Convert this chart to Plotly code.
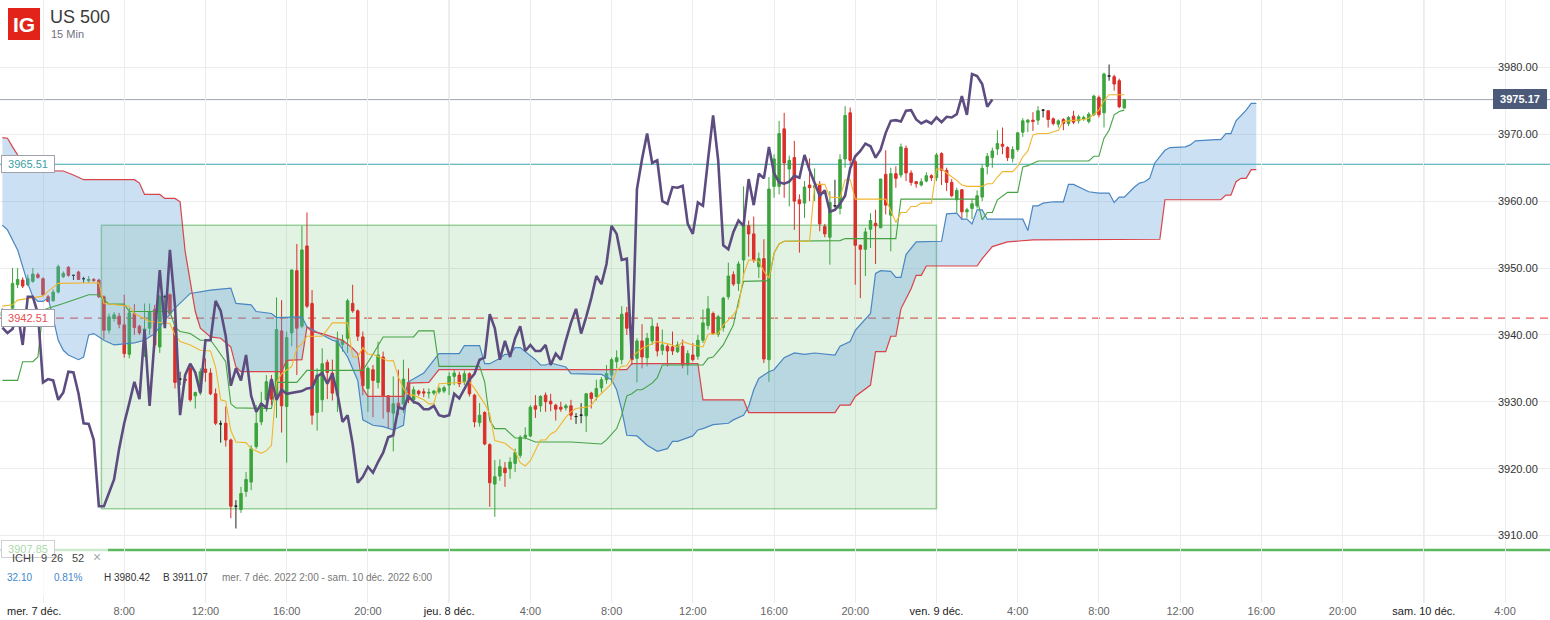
import numpy as np
import pandas as pd
import plotly.graph_objects as go

# ---------------- data ----------------
instrument = "US 500"
timeframe = "15 Min"
start = "2022-12-07 02:00"   # first 15-min bar

opens = [3942.8, 3943.5, 3944.0, 3947.5, 3948.2, 3947.5, 3948.0, 3949.0, 3948.4, 3945.7,
         3945.1, 3946.4, 3948.7, 3950.1, 3948.9, 3949.4, 3948.4, 3948.1, 3948.3, 3948.2,
         3945.7, 3940.7, 3942.5, 3942.8, 3941.5, 3937.1, 3943.2, 3941.3, 3940.6, 3941.0,
         3943.8, 3938.2, 3945.7, 3946.0, 3941.2, 3933.4, 3933.4, 3935.0, 3930.9, 3931.5,
         3934.9, 3934.3, 3931.2, 3926.7, 3926.8, 3924.3, 3914.4, 3913.9, 3916.6, 3918.0,
         3923.3, 3927.0, 3930.3, 3933.3, 3930.8, 3940.6, 3929.3, 3940.3, 3949.6, 3941.3,
         3953.3, 3944.7, 3928.4, 3930.3, 3935.9, 3934.3, 3931.0, 3938.6, 3939.5, 3944.7,
         3943.6, 3939.7, 3932.0, 3934.8, 3932.9, 3936.7, 3930.9, 3928.3, 3929.8, 3929.7,
         3932.9, 3930.3, 3931.6, 3931.5, 3931.3, 3931.3, 3931.5, 3931.6, 3932.5, 3933.8,
         3934.0, 3933.0, 3934.2, 3931.0, 3926.9, 3928.4, 3923.6, 3917.7, 3918.9, 3920.1,
         3920.0, 3920.8, 3922.0, 3924.7, 3924.9, 3929.4, 3929.4, 3931.0, 3930.1, 3929.5,
         3929.2, 3929.1, 3929.4, 3927.8, 3928.0, 3927.9, 3931.3, 3930.8, 3932.1, 3933.3,
         3934.0, 3936.0, 3936.3, 3943.3, 3941.0, 3936.5, 3939.1, 3936.6, 3939.1, 3941.2,
         3937.7, 3938.3, 3938.2, 3937.5, 3938.3, 3935.5, 3937.0, 3936.8, 3939.2, 3941.4,
         3943.2, 3940.1, 3941.1, 3945.7, 3949.0, 3947.7, 3951.2, 3956.3, 3955.1, 3950.2,
         3951.4, 3936.3, 3962.2, 3962.2, 3970.8, 3964.8, 3966.5, 3960.2, 3959.7, 3962.4,
         3962.0, 3962.5, 3956.2, 3954.6, 3959.3, 3958.9, 3966.3, 3973.2, 3965.9, 3953.4,
         3952.8, 3955.8, 3956.7, 3956.0, 3964.0, 3957.9, 3964.1, 3963.9, 3967.9, 3964.2,
         3962.9, 3962.4, 3963.0, 3963.8, 3963.5, 3967.1, 3964.6, 3962.8, 3960.2, 3961.7,
         3958.4, 3958.9, 3959.3, 3960.6, 3965.2, 3966.5, 3967.8, 3968.5, 3968.0, 3966.4,
         3967.7, 3970.3, 3971.8, 3972.1, 3972.1, 3973.6, 3973.5, 3972.3, 3971.5, 3972.2,
         3971.6, 3972.7, 3972.0, 3972.3, 3971.9, 3972.9, 3975.5, 3973.2, 3978.7, 3978.6,
         3978.0, 3973.9]

highs = [3944.0, 3943.8, 3950.0, 3950.0, 3948.6, 3949.0, 3950.0, 3949.3, 3948.6, 3946.0,
         3946.8, 3950.5, 3949.5, 3950.3, 3949.0, 3949.6, 3948.7, 3948.8, 3948.5, 3948.4,
         3945.9, 3943.2, 3943.4, 3943.3, 3946.0, 3944.0, 3944.6, 3941.5, 3944.7, 3944.7,
         3944.5, 3946.0, 3946.0, 3946.2, 3943.0, 3934.5, 3933.8, 3935.5, 3931.5, 3935.0,
         3936.5, 3935.0, 3932.0, 3927.2, 3929.3, 3924.5, 3915.3, 3917.3, 3919.5, 3923.5,
         3929.5, 3931.5, 3934.0, 3934.0, 3945.6, 3945.2, 3940.5, 3949.8, 3953.6, 3956.3,
         3958.3, 3946.7, 3935.0, 3938.0, 3936.3, 3936.3, 3940.5, 3940.0, 3945.4, 3947.5,
         3943.8, 3940.5, 3935.3, 3935.5, 3939.0, 3937.5, 3931.0, 3933.8, 3934.8, 3936.3,
         3935.0, 3932.3, 3931.8, 3932.0, 3932.0, 3931.8, 3932.3, 3932.4, 3934.4, 3934.8,
         3934.5, 3934.7, 3934.4, 3931.2, 3929.8, 3928.6, 3923.8, 3921.3, 3921.4, 3921.0,
         3921.7, 3923.0, 3925.0, 3926.2, 3929.5, 3931.0, 3931.0, 3931.4, 3931.2, 3929.7,
         3930.0, 3929.7, 3930.3, 3928.3, 3929.8, 3931.3, 3931.5, 3933.3, 3933.7, 3935.5,
         3936.6, 3937.7, 3944.3, 3944.2, 3941.3, 3939.5, 3941.6, 3940.3, 3942.5, 3941.8,
         3940.8, 3938.6, 3940.5, 3939.0, 3939.3, 3937.7, 3938.8, 3940.0, 3943.8, 3945.8,
         3943.5, 3943.0, 3945.7, 3950.8, 3949.5, 3951.0, 3962.2, 3957.1, 3957.7, 3952.3,
         3954.3, 3963.6, 3967.0, 3972.0, 3973.2, 3966.8, 3969.0, 3961.0, 3963.0, 3966.4,
         3964.9, 3963.0, 3956.6, 3961.5, 3963.2, 3967.0, 3974.2, 3974.0, 3966.2, 3953.5,
         3956.0, 3958.2, 3958.7, 3963.3, 3967.6, 3965.0, 3965.2, 3968.6, 3968.3, 3964.6,
         3963.0, 3963.4, 3964.3, 3964.0, 3967.2, 3967.3, 3965.0, 3963.3, 3962.0, 3961.8,
         3959.0, 3960.3, 3961.6, 3965.5, 3967.2, 3968.0, 3970.6, 3971.0, 3968.2, 3968.2,
         3970.3, 3972.4, 3972.3, 3973.3, 3974.2, 3973.7, 3973.6, 3972.5, 3972.2, 3972.4,
         3972.7, 3973.5, 3972.9, 3972.8, 3973.3, 3975.9, 3975.8, 3979.2, 3980.42, 3978.9,
         3978.3, 3975.3]

lows = [3942.0, 3942.5, 3943.7, 3947.0, 3947.0, 3947.3, 3947.8, 3948.4, 3945.8, 3944.9,
        3945.0, 3946.2, 3948.5, 3948.7, 3948.2, 3948.2, 3947.8, 3947.8, 3948.0, 3945.5,
        3939.4, 3940.2, 3942.0, 3941.0, 3936.6, 3936.5, 3940.0, 3940.0, 3936.7, 3940.0,
        3938.0, 3937.3, 3943.0, 3942.8, 3932.0, 3932.5, 3932.8, 3930.0, 3929.0, 3931.0,
        3933.0, 3931.0, 3926.5, 3923.9, 3923.3, 3912.6, 3911.07, 3913.4, 3915.8, 3916.8,
        3923.0, 3926.5, 3928.5, 3929.5, 3927.6, 3925.4, 3920.9, 3938.3, 3934.0, 3941.0,
        3944.0, 3926.6, 3925.7, 3928.5, 3930.4, 3930.2, 3928.5, 3937.5, 3937.3, 3943.3,
        3939.1, 3931.0, 3928.5, 3927.7, 3932.0, 3927.5, 3926.0, 3922.6, 3928.0, 3928.3,
        3929.8, 3929.7, 3930.9, 3930.7, 3930.5, 3931.0, 3931.2, 3931.3, 3931.0, 3932.5,
        3932.2, 3932.5, 3930.8, 3926.2, 3926.3, 3923.5, 3914.3, 3912.8, 3918.2, 3917.3,
        3918.5, 3919.5, 3921.6, 3924.4, 3924.7, 3927.6, 3928.5, 3928.5, 3928.6, 3927.2,
        3928.5, 3928.7, 3927.3, 3926.7, 3926.8, 3925.5, 3929.0, 3930.2, 3931.4, 3932.7,
        3932.7, 3935.0, 3935.6, 3940.0, 3935.5, 3932.9, 3935.0, 3935.3, 3938.5, 3936.8,
        3937.0, 3935.3, 3937.0, 3937.3, 3935.0, 3934.0, 3936.0, 3936.3, 3938.8, 3940.8,
        3940.0, 3939.7, 3940.5, 3945.3, 3947.3, 3946.6, 3948.6, 3951.7, 3950.8, 3948.5,
        3935.8, 3933.0, 3960.5, 3961.0, 3960.5, 3959.2, 3955.7, 3952.3, 3957.5, 3960.0,
        3960.0, 3955.5, 3954.6, 3950.5, 3959.0, 3958.0, 3965.0, 3965.5, 3947.5, 3945.5,
        3948.8, 3953.0, 3950.6, 3956.0, 3958.0, 3952.5, 3962.0, 3963.5, 3963.0, 3962.3,
        3962.0, 3962.2, 3962.8, 3963.0, 3963.0, 3962.4, 3961.5, 3960.6, 3958.3, 3957.2,
        3957.5, 3957.3, 3958.9, 3960.0, 3964.0, 3965.0, 3966.9, 3967.0, 3966.0, 3965.8,
        3967.4, 3969.6, 3970.3, 3970.5, 3971.4, 3972.5, 3971.0, 3971.3, 3971.0, 3970.6,
        3971.2, 3971.5, 3971.6, 3972.0, 3971.6, 3972.7, 3972.5, 3971.0, 3978.0, 3976.5,
        3973.9, 3973.9]

closes = [3943.4, 3942.9, 3947.7, 3948.3, 3947.3, 3948.4, 3949.1, 3948.6, 3946.0, 3945.0,
          3946.4, 3950.2, 3949.2, 3948.9, 3948.9, 3948.3, 3948.4, 3948.3, 3948.1, 3945.7,
          3940.7, 3942.7, 3943.0, 3941.6, 3937.2, 3943.3, 3941.1, 3940.3, 3940.9, 3943.4,
          3938.5, 3945.7, 3945.7, 3943.2, 3932.9, 3933.4, 3933.2, 3930.3, 3931.4, 3934.5,
          3934.4, 3931.2, 3926.8, 3926.7, 3924.3, 3914.4, 3914.4, 3916.3, 3918.4, 3923.0,
          3926.8, 3929.8, 3933.0, 3930.4, 3940.8, 3929.4, 3939.6, 3949.7, 3941.0, 3952.7,
          3944.3, 3928.0, 3934.0, 3935.7, 3934.4, 3931.3, 3939.2, 3939.2, 3945.1, 3943.6,
          3939.8, 3932.4, 3935.0, 3933.2, 3937.0, 3930.9, 3928.5, 3929.7, 3929.1, 3933.4,
          3930.3, 3931.8, 3931.2, 3931.3, 3931.4, 3931.6, 3932.0, 3932.1, 3933.8, 3934.3,
          3932.7, 3934.2, 3931.2, 3927.0, 3928.0, 3923.7, 3917.9, 3918.8, 3920.3, 3919.4,
          3921.0, 3922.4, 3924.7, 3925.0, 3929.2, 3928.9, 3930.8, 3930.0, 3929.7, 3928.9,
          3928.9, 3929.4, 3928.0, 3927.8, 3928.0, 3931.2, 3930.5, 3932.0, 3933.3, 3934.2,
          3936.3, 3936.6, 3943.1, 3941.0, 3936.3, 3939.1, 3936.7, 3939.5, 3941.3, 3937.6,
          3938.5, 3937.6, 3937.6, 3938.5, 3935.5, 3937.2, 3936.3, 3939.2, 3941.8, 3943.9,
          3940.2, 3942.7, 3945.5, 3948.8, 3947.6, 3950.6, 3956.3, 3955.1, 3951.2, 3951.4,
          3936.4, 3961.8, 3966.3, 3970.1, 3965.7, 3966.1, 3960.0, 3959.6, 3962.1, 3962.0,
          3962.3, 3956.6, 3955.1, 3959.8, 3959.3, 3966.2, 3972.8, 3966.1, 3953.4, 3952.8,
          3955.4, 3957.1, 3956.3, 3963.3, 3959.4, 3964.1, 3963.4, 3968.1, 3964.2, 3962.8,
          3962.6, 3962.9, 3963.8, 3963.5, 3966.9, 3964.6, 3962.8, 3960.8, 3961.6, 3958.4,
          3958.7, 3959.6, 3960.8, 3964.9, 3966.7, 3967.5, 3968.6, 3968.2, 3966.5, 3967.7,
          3970.2, 3972.0, 3972.1, 3971.9, 3973.5, 3973.6, 3972.2, 3971.6, 3972.0, 3971.6,
          3972.5, 3971.8, 3972.6, 3972.5, 3973.0, 3975.7, 3972.9, 3979.0, 3978.7, 3977.5,
          3974.1, 3975.17]

# Ichimoku lines as (bar number, price) vertices
tenkan_pts = [(0,3944.3),(2,3944.5),(3,3945.2),(8,3945.8),(9,3946.5),(11,3947.7),(19,3947.8),(20,3944.7),
              (25,3944.3),(26,3943.2),(29,3942.0),(33,3941.7),(34,3940.0),(35,3939.0),(37,3938.5),(39,3937.7),
              (41,3937.6),(42,3935.2),(43,3930.3),(44,3930.1),(45,3925.7),(46,3924.0),(48,3923.9),(49,3923.0),
              (51,3922.3),(52,3922.7),(53,3923.5),(54,3932.9),(55,3934.2),(57,3935.3),(58,3938.0),(59,3938.7),
              (60,3939.8),(63,3939.8),(65,3941.8),(68,3941.8),(69,3936.7),(70,3936.7),(71,3938.1),(72,3937.1),
              (73,3937.1),(75,3936.5),(76,3936.1),(77,3936.2),(78,3933.7),(79,3932.0),(80,3931.0),(81,3931.0),
              (83,3930.3),(84,3929.7),(85,3929.7),(86,3932.7),(89,3932.8),(92,3933.0),(93,3932.0),(95,3929.7),
              (96,3928.2),(97,3924.2),(99,3923.8),(101,3922.6),(102,3920.9),(103,3920.4),(104,3921.2),(105,3922.7),
              (106,3924.3),(107,3924.3),(108,3925.2),(109,3925.6),(111,3927.7),(112,3928.5),(113,3929.0),(115,3929.2),
              (116,3929.5),(117,3930.5),(118,3931.2),(119,3932.0),(120,3932.7),(121,3934.7),(122,3935.3),(123,3935.4),
              (124,3936.7),(126,3938.0),(128,3938.7),(129,3939.0),(131,3938.7),(133,3938.2),(134,3939.0),(136,3938.5),
              (138,3938.2),(139,3940.1),(141,3940.2),(142,3941.5),(143,3942.2),(144,3943.0),(145,3944.2),(146,3949.0),
              (147,3951.2),(148,3951.2),(149,3951.0),(150,3949.5),(151,3948.5),(152,3952.2),(153,3953.6),(154,3954.0),
              (159,3954.0),(160,3962.5),(162,3962.5),(163,3960.6),(165,3960.5),(166,3963.2),(167,3963.2),(168,3960.3),
              (174,3960.3),(175,3958.5),(176,3956.8),(177,3958.3),(178,3958.3),(179,3959.2),(180,3959.2),(181,3959.7),
              (183,3959.7),(184,3964.8),(185,3964.8),(186,3964.2),(188,3963.1),(189,3962.4),(190,3962.2),(193,3962.2),
              (194,3962.6),(195,3962.6),(196,3963.6),(197,3964.4),(199,3964.4),(200,3965.2),(201,3966.6),(202,3967.5),
              (203,3969.9),(204,3970.1),(206,3970.1),(208,3970.6),(209,3971.9),(210,3972.0),(213,3972.2),(214,3972.4),
              (216,3973.6),(217,3975.0),(218,3975.9),(221,3975.9)]

kijun_pts = [(0,3933.2),(3,3933.2),(4,3936.0),(6,3936.0),(7,3936.7),(8,3943.7),(9,3944.0),(12,3944.7),
             (17,3946.0),(19,3946.0),(21,3944.6),(24,3944.6),(25,3943.5),(33,3943.5),(34,3941.2),(35,3940.5),
             (37,3940.2),(39,3939.2),(41,3939.2),(42,3938.2),(44,3936.0),(45,3929.7),(46,3929.1),(53,3929.0),
             (54,3932.9),(58,3932.9),(60,3934.7),(71,3934.7),(73,3937.1),(75,3939.7),(81,3939.7),(82,3940.6),
             (85,3940.6),(86,3935.3),(94,3935.3),(95,3933.0),(96,3927.2),(97,3926.0),(99,3926.0),(101,3924.6),
             (103,3924.6),(105,3924.0),(112,3924.0),(118,3923.7),(119,3924.3),(121,3926.0),(122,3928.0),(123,3930.9),
             (124,3931.2),(125,3931.8),(126,3931.8),(128,3932.8),(129,3933.6),(130,3935.5),(138,3935.5),(139,3936.5),
             (140,3936.7),(142,3938.5),(143,3940.0),(144,3941.5),(145,3945.0),(146,3948.0),(151,3948.1),(152,3952.2),
             (153,3953.6),(154,3954.0),(165,3954.1),(166,3954.4),(176,3954.4),(177,3960.3),(192,3960.3),(193,3957.2),
             (194,3958.3),(195,3958.3),(196,3960.2),(198,3961.3),(200,3961.3),(201,3965.1),(202,3965.3),(204,3966.0),
             (214,3966.0),(215,3966.7),(216,3966.7),(217,3969.4),(218,3970.6),(219,3972.9),(220,3973.4),(221,3973.6)]

senkou_a_pts = [(0,3956.4),(1,3955.7),(3,3952.7),(4,3950.2),(5,3947.7),(6,3945.7),(7,3945.0),(8,3945.0),
                (9,3945.5),(10,3942.5),(11,3939.2),(12,3937.7),(13,3937.0),(15,3936.3),(16,3936.7),(17,3940.0),
                (18,3940.2),(20,3939.2),(22,3938.5),(26,3938.8),(28,3939.2),(30,3940.2),(32,3942.2),(34,3944.0),
                (36,3945.5),(37,3946.2),(41,3946.7),(45,3947.0),(46,3944.7),(49,3944.5),(50,3943.5),(53,3943.2),
                (54,3942.6),(59,3942.7),(60,3941.2),(63,3940.0),(65,3939.2),(66,3939.0),(68,3936.7),(70,3933.2),
                (71,3927.3),(73,3926.5),(75,3926.3),(77,3925.8),(79,3926.5),(80,3933.0),(83,3934.3),(86,3937.2),
                (90,3937.2),(91,3938.4),(94,3938.4),(95,3935.7),(96,3935.7),(98,3936.5),(99,3937.1),(100,3937.1),
                (101,3938.1),(102,3938.1),(105,3936.3),(106,3935.5),(107,3935.5),(108,3935.8),(111,3935.2),(112,3934.2),
                (118,3934.1),(120,3933.3),(121,3931.8),(122,3928.8),(123,3925.0),(125,3924.9),(127,3923.5),(129,3922.6),
                (131,3923.0),(132,3924.1),(133,3924.1),(136,3924.9),(137,3925.8),(138,3926.0),(140,3926.6),(143,3926.8),
                (144,3927.3),(146,3928.0),(147,3929.3),(148,3931.8),(149,3933.5),(151,3934.5),(152,3934.8),(154,3936.6),
                (156,3937.3),(158,3937.1),(160,3937.3),(164,3937.0),(165,3938.3),(167,3939.0),(168,3940.7),(171,3943.2),
                (172,3949.2),(173,3949.6),(175,3949.5),(176,3948.6),(177,3948.6),(178,3952.0),(180,3953.9),(185,3954.0),
                (186,3958.1),(188,3958.2),(189,3957.3),(190,3957.3),(191,3956.6),(192,3958.7),(193,3958.7),(194,3957.3),
                (201,3957.3),(202,3955.6),(203,3959.3),(204,3959.3),(205,3959.7),(207,3959.9),(209,3959.9),(210,3962.5),
                (211,3962.5),(214,3961.4),(216,3961.2),(218,3961.2),(219,3959.8),(220,3960.6),(221,3960.6),(223,3962.1),
                (224,3962.7),(225,3962.9),(226,3963.4),(227,3965.7),(229,3967.6),(230,3968.0),(233,3968.1),(234,3968.4),
                (235,3969.0),(239,3969.2),(240,3969.2),(241,3970.1),(242,3970.1),(243,3972.0),(245,3973.6),(246,3974.6),
                (247,3974.6)]

senkou_b_pts = [(0,3969.5),(1,3969.4),(2,3968.1),(3,3966.9),(4,3964.6),(12,3964.5),(14,3963.9),(16,3963.2),
                (26,3963.2),(27,3962.7),(28,3961.0),(31,3961.0),(32,3960.4),(34,3960.4),(35,3959.9),(36,3952.5),
                (37,3948.0),(38,3943.5),(39,3941.0),(41,3939.7),(43,3939.5),(45,3938.2),(46,3935.2),(47,3934.5),
                (55,3934.5),(56,3936.2),(59,3936.3),(60,3941.2),(61,3940.5),(63,3940.2),(67,3939.2),(69,3938.0),
                (70,3937.2),(71,3932.0),(72,3930.8),(79,3930.8),(80,3932.8),(84,3932.9),(86,3934.8),(123,3934.8),
                (124,3935.7),(137,3935.7),(138,3930.3),(146,3930.3),(147,3928.4),(164,3928.4),(165,3929.5),(167,3929.5),
                (168,3930.8),(171,3932.5),(172,3937.5),(174,3937.5),(175,3939.8),(176,3939.8),(177,3943.9),(179,3946.9),
                (180,3948.9),(181,3948.9),(182,3950.3),(192,3950.3),(193,3951.4),(195,3953.2),(198,3953.9),(203,3954.2),
                (228,3954.3),(229,3960.2),(240,3960.2),(241,3960.9),(242,3960.9),(243,3962.9),(244,3963.4),(245,3963.4),
                (246,3964.7),(247,3964.7)]

chikou_shift = 26  # bars

# drawn zone (rectangle) and horizontal levels
zone_bars = (19.5, 184)          # bar numbers of the left / right edge
zone_prices = (3914.0, 3956.4)
last_price = 3975.17
level_teal = 3965.51
level_red = 3942.51
level_green = 3907.85

price_ticks = [3910, 3920, 3930, 3940, 3950, 3960, 3970, 3980]
time_ticks = ["2022-12-07 04:00", "2022-12-07 08:00", "2022-12-07 12:00", "2022-12-07 16:00",
              "2022-12-07 20:00", "2022-12-08 00:00", "2022-12-08 04:00", "2022-12-08 08:00",
              "2022-12-08 12:00", "2022-12-08 16:00", "2022-12-08 20:00", "2022-12-09 00:00",
              "2022-12-09 04:00", "2022-12-09 08:00", "2022-12-09 12:00", "2022-12-09 16:00",
              "2022-12-09 20:00", "2022-12-10 00:00", "2022-12-10 04:00"]
time_labels = ["", "8:00", "12:00", "16:00", "20:00", "jeu. 8 déc.", "4:00", "8:00", "12:00", "16:00",
               "20:00", "ven. 9 déc.", "4:00", "8:00", "12:00", "16:00", "20:00", "sam. 10 déc.", "4:00"]
day_labels = {"jeu. 8 déc.", "ven. 9 déc.", "sam. 10 déc."}
day_lines = ["2022-12-08 00:00", "2022-12-09 00:00", "2022-12-10 00:00"]
x_window = ["2022-12-07 01:52:57", "2022-12-10 06:12:47"]
y_window = [3899.93, 3990.06]

# ---------------- figure ----------------
W, H = 1550, 620
PLOT_H = 603
t0 = pd.Timestamp(start)


def bar_time(idx):
    return t0 + pd.to_timedelta(np.asarray(idx, dtype=float) * 15, unit="min")


def px(x):
    return x / W


def py(y):
    return 1 - y / PLOT_H


o = np.array(opens); h = np.array(highs); l = np.array(lows); c = np.array(closes)
times = bar_time(np.arange(len(c)))
doji = np.abs(c - o) < 0.05

UP = "#3da43d"
DOWN = "#da2f2b"

fig = go.Figure()

# cloud
a_i, a_v = zip(*senkou_a_pts)
b_i, b_v = zip(*senkou_b_pts)
fig.add_trace(go.Scatter(x=bar_time(a_i), y=a_v, mode="lines",
                         line=dict(color="#4a86c2", width=1.2), hoverinfo="skip"))
fig.add_trace(go.Scatter(x=bar_time(b_i), y=b_v, mode="lines",
                         line=dict(color="#d9434a", width=1.2), fill="tonexty",
                         fillcolor="rgba(100,160,220,0.33)", hoverinfo="skip"))

# candles
m = ~doji
fig.add_trace(go.Candlestick(x=times[m], open=o[m], high=h[m], low=l[m], close=c[m],
                             increasing=dict(line=dict(color=UP, width=1), fillcolor=UP),
                             decreasing=dict(line=dict(color=DOWN, width=1), fillcolor=DOWN),
                             whiskerwidth=0, hoverinfo="skip"))
fig.add_trace(go.Candlestick(x=times[doji], open=o[doji], high=h[doji], low=l[doji], close=c[doji],
                             increasing=dict(line=dict(color="#222", width=1), fillcolor="#222"),
                             decreasing=dict(line=dict(color="#222", width=1), fillcolor="#222"),
                             whiskerwidth=0, hoverinfo="skip"))

# tenkan / kijun / chikou
k_i, k_v = zip(*kijun_pts)
t_i, t_v = zip(*tenkan_pts)
fig.add_trace(go.Scatter(x=bar_time(k_i), y=k_v, mode="lines",
                         line=dict(color="#45a345", width=1.1), hoverinfo="skip"))
fig.add_trace(go.Scatter(x=bar_time(t_i), y=t_v, mode="lines",
                         line=dict(color="#f2b52e", width=1.1), hoverinfo="skip"))
fig.add_trace(go.Scatter(x=times[:len(c) - chikou_shift], y=c[chikou_shift:], mode="lines",
                         line=dict(color="#5d4c7f", width=2.6), hoverinfo="skip"))

shapes = []
# zone rectangle
shapes.append(dict(type="rect", xref="x", yref="y", layer="between",
                   x0=bar_time(zone_bars[0]), x1=bar_time(zone_bars[1]),
                   y0=zone_prices[0], y1=zone_prices[1],
                   fillcolor="rgba(76,175,80,0.16)", line=dict(color="rgba(76,175,80,0.55)", width=1.5)))
# day separators
for d in day_lines:
    shapes.append(dict(type="line", xref="x", yref="paper", x0=d, x1=d, y0=0, y1=1, layer="between",
                       line=dict(color="#cfd2d8", width=1)))
# levels
shapes.append(dict(type="line", xref="paper", yref="y", x0=0, x1=1, y0=last_price, y1=last_price,
                   layer="between", line=dict(color="#9ea3ad", width=1)))
shapes.append(dict(type="line", xref="paper", yref="y", x0=0, x1=1, y0=level_teal, y1=level_teal,
                   layer="between", line=dict(color="#3aa5ab", width=1.2)))
shapes.append(dict(type="line", xref="paper", yref="y", x0=0, x1=1, y0=level_red, y1=level_red,
                   layer="between", line=dict(color="#e85a5a", width=1.2, dash="8px,6px")))
shapes.append(dict(type="line", xref="paper", yref="y", x0=0, x1=1, y0=level_green, y1=level_green,
                   layer="between", line=dict(color="#5cb85c", width=2.5)))
# legend fade panel
shapes.append(dict(type="rect", xref="paper", yref="paper", x0=0, x1=px(108), y0=py(596), y1=py(544),
                   layer="above", fillcolor="rgba(255,255,255,0.7)", line=dict(width=0)))
# IG logo
shapes.append(dict(type="rect", xref="paper", yref="paper", x0=px(8), x1=px(40), y0=py(40), y1=py(8),
                   layer="above", fillcolor="#e2231a", line=dict(width=0)))

ann = []


def text(x, y, s, size=11, color="#333", anchor="left", **kw):
    ann.append(dict(x=px(x), y=py(y), xref="paper", yref="paper", text=s, showarrow=False,
                    xanchor=anchor, yanchor="middle", font=dict(size=size, color=color), **kw))


text(24, 24.5, "<b>IG</b>", size=21, color="white", anchor="center")
text(48, 17, instrument, size=18, color="#3a3a3a")
text(49, 34, timeframe, size=11, color="#707080")

# price labels on the left
for val, col, yy, bc in [(level_teal, "#3aa0a8", 164, "#a0a0aa"), (level_red, "#e45050", 318, "#a0a0aa"),
                         (level_green, "#a9dba9", 549, "#cfcfd5")]:
    text(0.5, yy, f"{val:.2f}", size=11, color=col, bgcolor="white", bordercolor=bc,
         borderwidth=1, borderpad=2, width=48, height=12, align="center")

# last price label on the right
text(1547, 99.5, f"<b>{last_price:.2f}</b>", size=11, color="white", anchor="right", bgcolor="#4b5a79",
     bordercolor="#4b5a79", borderwidth=1, borderpad=2, width=48, height=14, align="center")

# indicator legend
text(10, 558, "ICHI", size=11, color="#444")
text(39, 558, "9", size=11, color="#444")
text(49, 558, "26", size=11, color="#444")
text(70, 558, "52", size=11, color="#444")
text(91, 557, "×", size=14, color="#aaaaaa")
text(5, 577, "32.10", size=10, color="#3f86c9")
text(52, 577, "0.81%", size=10, color="#3f86c9")
text(102, 577, f"H {max(highs):.2f}", size=10, color="#333")
text(161, 577, f"B {min(lows):.2f}", size=10, color="#333")
text(220, 577, "mer. 7 déc. 2022 2:00 - sam. 10 déc. 2022 6:00", size=10, color="#777")

# first day label pinned on the left
text(5, 611, "mer. 7 déc.", size=11, color="#222")

ticktext = [f'<span style="color:#222">{t}</span>' if t in day_labels else t for t in time_labels]

fig.update_layout(
    width=W, height=H,
    margin=dict(l=0, r=0, t=0, b=H - PLOT_H, pad=0),
    paper_bgcolor="white", plot_bgcolor="white",
    showlegend=False, hovermode=False,
    font=dict(family="Liberation Sans, Arial, sans-serif", size=11, color="#333"),
    shapes=shapes, annotations=ann,
    xaxis=dict(type="date", range=x_window, rangeslider=dict(visible=False),
               tickmode="array", tickvals=time_ticks, ticktext=ticktext,
               showgrid=True, gridcolor="#ececec", gridwidth=1, zeroline=False, showline=False,
               ticks="", tickfont=dict(size=11, color="#666"), fixedrange=True),
    yaxis=dict(range=y_window, side="right", anchor="free", position=1497 / W,
               tickmode="array", tickvals=price_ticks,
               ticktext=[f"{v:.2f}" for v in price_ticks], ticklabelposition="outside",
               showgrid=True, gridcolor="#ececec", gridwidth=1, zeroline=False, showline=False,
               ticks="", tickfont=dict(size=11, color="#333"), fixedrange=True, automargin=False),
)

fig.write_html("out.html", config={"displayModeBar": False},
               post_script="document.body.style.margin='0';")
